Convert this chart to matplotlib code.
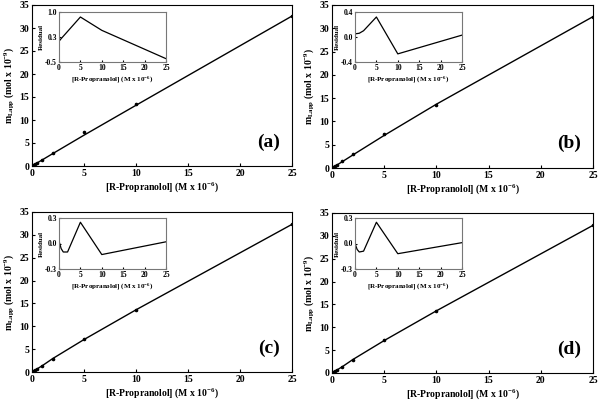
import matplotlib
matplotlib.use('Agg')
import matplotlib.pyplot as plt

plt.rcParams['font.family'] = ['Liberation Serif', 'DejaVu Serif']
plt.rcParams['font.weight'] = 'bold'
plt.rcParams['mathtext.fontset'] = 'custom'
plt.rcParams['mathtext.rm'] = 'Liberation Serif:bold'
plt.rcParams['mathtext.it'] = 'Liberation Serif:bold'
plt.rcParams['mathtext.bf'] = 'Liberation Serif:bold'

# main data (same concentrations for every panel)
conc = [0, 0.1, 0.25, 0.5, 1, 2, 5, 10, 25]
m_app = {
    'a': [0, 0.15, 0.35, 0.7, 1.4, 2.9, 7.3, 13.5, 32.6],
    'b': [0, 0.15, 0.35, 0.7, 1.45, 2.9, 7.3, 13.6, 32.5],
    'c': [0, 0.15, 0.35, 0.7, 1.4, 2.9, 7.3, 13.5, 32.3],
    'd': [0, 0.15, 0.35, 0.7, 1.4, 2.9, 7.3, 13.5, 32.3],
}
fit = {
    'a': [0, 0.14, 0.34, 0.68, 1.35, 2.7, 6.7, 13.2, 32.6],
    'b': [0, 0.14, 0.34, 0.68, 1.38, 2.8, 7.0, 13.7, 32.5],
    'c': [0, 0.14, 0.34, 0.69, 1.4, 2.95, 7.1, 13.6, 32.3],
    'd': [0, 0.14, 0.34, 0.69, 1.4, 2.95, 7.1, 13.6, 32.3],
}

# residual insets
res_x = {
    'a': [0, 0.5, 5, 10, 25],
    'b': [0, 1, 2, 5, 10, 25],
    'c': [0, 0.5, 1, 2, 5, 10, 25],
    'd': [0, 0.5, 1, 2, 5, 10, 25],
}
res_y = {
    'a': [0.12, 0.2, 0.85, 0.45, -0.4],
    'b': [0.05, 0.06, 0.1, 0.32, -0.27, 0.03],
    'c': [0.03, -0.06, -0.1, -0.1, 0.25, -0.13, 0.02],
    'd': [0.0, -0.07, -0.1, -0.09, 0.25, -0.12, 0.01],
}
res_ticks = {
    'a': ([-0.5, 0.25, 1.0], ['-0.5', '0.3', '1.0']),
    'b': ([-0.4, 0.0, 0.4], ['-0.4', '0.0', '0.4']),
    'c': ([-0.3, 0.0, 0.3], ['-0.3', '0.0', '0.3']),
    'd': ([-0.3, 0.0, 0.3], ['-0.3', '0.0', '0.3']),
}

W, H = 600, 401
main_box = {'a': (32, 5, 292, 166), 'b': (332, 5, 593, 168),
            'c': (32, 212, 292, 372), 'd': (332, 213, 593, 373)}
inset_box = {'a': (59, 12, 166, 62), 'b': (355, 12, 462, 62),
             'c': (59, 218, 166, 269), 'd': (355, 218, 462, 269)}


def box(b):
    x0, y0, x1, y1 = b
    return [x0 / W, 1 - y1 / H, (x1 - x0) / W, (y1 - y0) / H]


fig = plt.figure(figsize=(6, 4.01), dpi=100)

for key in ['a', 'b', 'c', 'd']:
    ax = fig.add_axes(box(main_box[key]))
    ax.plot(conc, fit[key], color='black', lw=1)
    ax.plot(conc, m_app[key], 'o', color='black', ms=1.6)
    ax.set_xlim(0, 25)
    ax.set_ylim(0, 35)
    ax.set_xticks([0, 5, 10, 15, 20, 25])
    ax.set_yticks([0, 5, 10, 15, 20, 25, 30, 35])
    ax.tick_params(direction='in', labelsize=7, length=2, pad=2)
    ax.set_xlabel(r'[R-Propranolol] (M x 10$^{\mathregular{-6}}$)', fontsize=7, fontweight='bold', labelpad=1.5)
    ax.set_ylabel(r'm$_{\mathregular{Lapp}}$ (mol x 10$^{\mathregular{-9}}$)', fontsize=7, fontweight='bold', labelpad=2)
    ax.text(0.955, 0.15, '(' + key + ')', transform=ax.transAxes, fontsize=14,
            fontweight='bold', ha='right', va='center')

    ins = fig.add_axes(box(inset_box[key]))
    ins.plot(res_x[key], res_y[key], color='black', lw=0.9)
    ins.set_xlim(0, 25)
    ticks, labels = res_ticks[key]
    ins.set_ylim(ticks[0], ticks[-1])
    ins.set_yticks(ticks)
    ins.set_yticklabels(labels)
    ins.set_xticks([0, 5, 10, 15, 20, 25])
    ins.tick_params(direction='in', labelsize=5.5, length=1.5, pad=1.5)
    for s in ins.spines.values():
        s.set_color('#777777')
    ins.set_xlabel(r'[R-Propranolol] (M x 10$^{\mathregular{-6}}$)', fontsize=5, fontweight='bold', labelpad=2)
    ins.set_ylabel('Residual', fontsize=5, fontweight='bold', labelpad=1)

fig.savefig('out.png', dpi=100)
